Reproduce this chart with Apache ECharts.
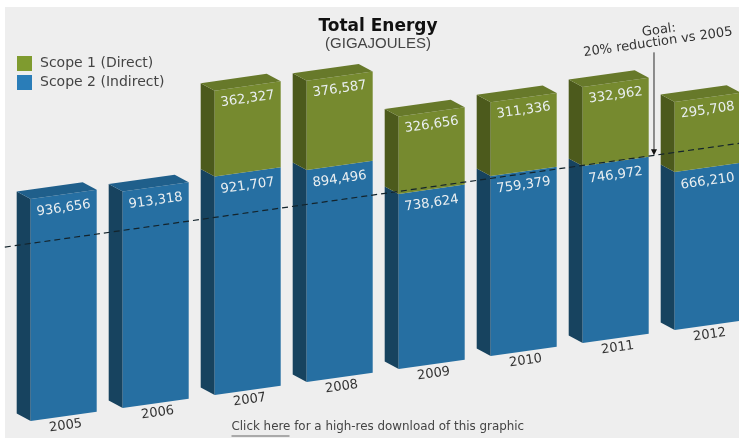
<!DOCTYPE html>
<html><head><meta charset="utf-8">
<style>html,body{margin:0;padding:0;background:#fff;overflow:hidden}#c{width:739px;height:438px;filter:blur(0.45px)}</style>
<script src="https://cdn.jsdelivr.net/npm/echarts@6/dist/echarts.min.js"></script>
</head><body><div id="c"></div>
<script>
const years=['2005','2006','2007','2008','2009','2010','2011','2012'];
const scope2=[936656,913318,921707,894496,738624,759379,746972,666210];
const scope1=[null,null,362327,376587,326656,311336,332962,295708];
const goalValue=749325;
const titleText='Total Energy', subtitleText='(GIGAJOULES)';
const goalLines=['Goal:','20% reduction vs 2005'];
const footerLink='Click here', footerRest=' for a high-res download of this graphic';
const SLOPE=0.1413, BAR=66/92, DX=-14, DY=-7.5, ANG=Math.atan(SLOPE);
const FONT='"DejaVu Sans"';
const fmt=v=>v.toLocaleString('en-US');

function geom(api){
  const band=api.size([1,0])[0];
  const x0=api.coord([0,0])[0]-band*BAR/2;
  const sh=p=>[p[0],p[1]-SLOPE*(p[0]-x0)];
  return {band,hw:band*BAR/2,sh};
}
function poly(points,fill){return {type:'polygon',shape:{points},style:{fill},silent:true};}
function txt(p,text,fill,font,extra){
  return Object.assign({type:'text',x:p[0],y:p[1],rotation:ANG,
    style:{text,fill,font,align:'center',verticalAlign:'middle'},silent:true},extra||{});
}
function segment(api,i,lo,hi,c,hasTop,value,labelDrop){
  const g=geom(api), cx=api.coord([i,0])[0];
  const P=(x,v)=>g.sh([x,api.coord([i,v])[1]]);
  const bl=P(cx-g.hw,lo),br=P(cx+g.hw,lo),tl=P(cx-g.hw,hi),tr=P(cx+g.hw,hi);
  const off=p=>[p[0]+DX,p[1]+DY];
  const kids=[
    poly([off(bl),bl,tl,off(tl)],c.side),
    poly([bl,br,tr,tl],c.front)
  ];
  if(hasTop) kids.push(poly([off(tl),tl,tr,off(tr)],c.top));
  const mid=P(cx,hi);
  kids.push(txt([mid[0],mid[1]+labelDrop],fmt(value),'#e9eef0','13.2px '+FONT));
  return kids;
}
const blue={front:'#266fa2',side:'#17435f',top:'#1f5f8b'};
const green={front:'#768a2f',side:'#4c5a1c',top:'#67792a'};

const option={
  animation:false,
  backgroundColor:'transparent',
  title:{text:titleText,subtext:subtitleText,left:378,top:18,padding:0,textAlign:'center',itemGap:1,
    textStyle:{fontFamily:FONT,fontWeight:'bold',fontSize:17,color:'#111'},
    subtextStyle:{fontFamily:'"Liberation Sans"',fontSize:15,color:'#444'}},
  legend:{orient:'vertical',left:17,top:56,padding:0,itemWidth:15,itemHeight:15,itemGap:4,icon:'rect',
    selectedMode:false,data:['Scope 1 (Direct)','Scope 2 (Indirect)'],
    textStyle:{fontFamily:FONT,fontSize:14,color:'#444',padding:[2,0,0,3]}},
  grid:{left:17.7,width:736,top:65.5,height:355.5,outerBoundsMode:'none'},
  xAxis:{type:'category',data:years,show:false},
  yAxis:{type:'value',min:0,max:1500000,show:false},
  graphic:[
    {type:'rect',z:-10,silent:true,shape:{x:5,y:7,width:740,height:440},style:{fill:'#eeeeee'}},
    {type:'text',x:231.5,y:427,z:5,silent:true,style:{text:footerLink+footerRest,fill:'#444',font:'11.9px '+FONT,verticalAlign:'middle'}},
    {type:'rect',x:231.5,y:435,z:5,silent:true,shape:{width:58,height:2},style:{fill:'#aaaaaa'}}
  ],
  series:[
    {type:'custom',name:'Scope 2 (Indirect)',coordinateSystem:'cartesian2d',clip:false,z:2,
     itemStyle:{color:'#2a7db8'},encode:{x:0,y:1},
     data:scope2.map((v,i)=>[i,v]),
     renderItem(p,api){
       const i=api.value(0),v=api.value(1),g=geom(api);
       const kids=segment(api,i,0,v,blue,scope1[i]==null,v,14);
       const c=api.coord([i,0]);
       const b=g.sh([c[0],c[1]]);
       kids.push(txt([b[0]+2,b[1]+9.5],years[i],'#333','13px '+FONT));
       return {type:'group',children:kids};
     }},
    {type:'custom',name:'Scope 1 (Direct)',coordinateSystem:'cartesian2d',clip:false,z:2,
     itemStyle:{color:'#7f9b2f'},encode:{x:0,y:1},
     data:scope1.map((v,i)=>[i,v]),
     renderItem(p,api){
       const i=api.value(0),v=scope1[i];
       if(v==null) return {type:'group',children:[]};
       return {type:'group',children:segment(api,i,scope2[i],scope2[i]+v,green,true,v,13)};
     }},
    {type:'custom',name:'Goal',coordinateSystem:'cartesian2d',clip:false,z:4,encode:{x:0,y:1},
     data:[[0,goalValue]],
     renderItem(p,api){
       const g=geom(api),v=api.value(1);
       const y=api.coord([0,v])[1],x0=api.coord([0,v])[0],x7=api.coord([7,v])[0];
       const a=g.sh([x0-g.band*0.64,y]),b=g.sh([x7+g.band*0.34,y]);
       const tip=g.sh([api.coord([6,v])[0]+g.band*0.416,y]);
       return {type:'group',children:[
         {type:'line',silent:true,shape:{x1:a[0],y1:a[1],x2:b[0],y2:b[1]},style:{stroke:'#14242c',lineWidth:1.2,lineDash:[6,4]}},
         {type:'line',silent:true,shape:{x1:tip[0],y1:tip[1]-103,x2:tip[0],y2:tip[1]-5},style:{stroke:'#8a8a8a',lineWidth:2}},
         poly([[tip[0]-3,tip[1]-6],[tip[0]+3,tip[1]-6],[tip[0],tip[1]]],'#111'),
         txt([tip[0]+5,tip[1]-125],goalLines[0],'#333','13px '+FONT),
         txt([tip[0]+4,tip[1]-113],goalLines[1],'#333','13px '+FONT)
       ]};
     }}
  ]
};
const chart=echarts.init(document.getElementById('c'),null,{renderer:'canvas'});
chart.setOption(option);
</script></body></html>
